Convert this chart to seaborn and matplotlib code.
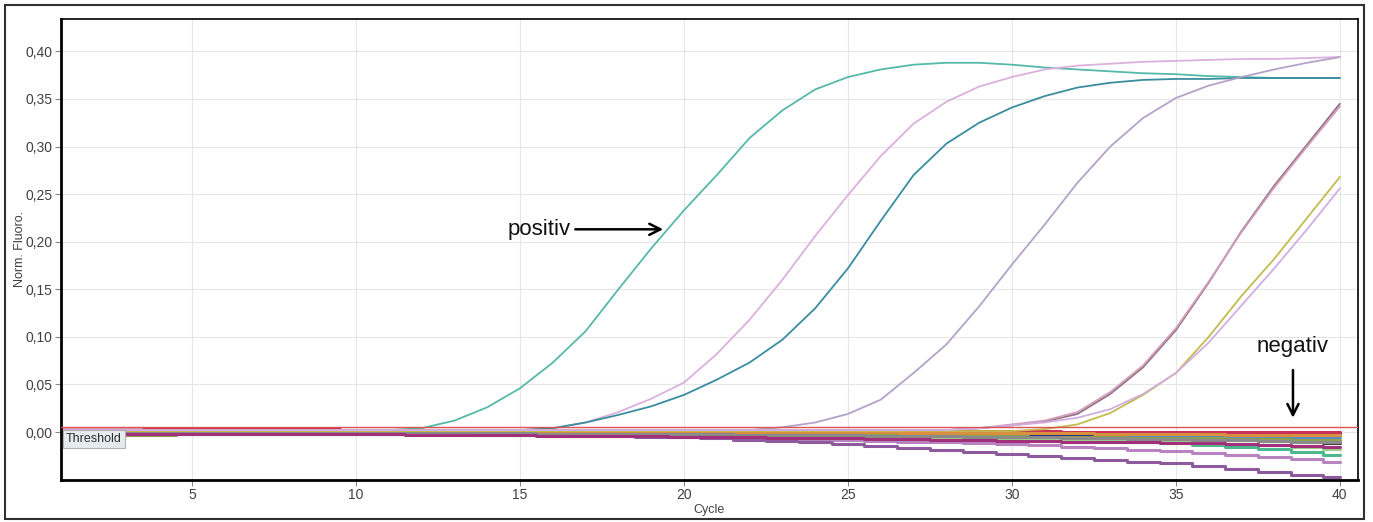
import numpy as np
import pandas as pd
import matplotlib
matplotlib.use('Agg')
import matplotlib.pyplot as plt
import matplotlib.patches as patches
import seaborn as sns

cycles = list(range(1, 41))

# positive wells (one value per cycle)
pos_a = [0.002]*11 + [0.004, 0.012, 0.026, 0.046, 0.073, 0.106, 0.150, 0.193,
         0.233, 0.270, 0.309, 0.338, 0.360, 0.373, 0.381, 0.386, 0.388, 0.388,
         0.386, 0.383, 0.381, 0.379, 0.377, 0.376, 0.374, 0.373, 0.372, 0.372,
         0.372]
pos_b = [0.002]*15 + [0.004, 0.010, 0.021, 0.035, 0.052, 0.082, 0.118, 0.160,
         0.206, 0.249, 0.290, 0.324, 0.347, 0.363, 0.373, 0.381, 0.385, 0.387,
         0.389, 0.390, 0.391, 0.392, 0.392, 0.393, 0.394]
pos_c = [0.002]*15 + [0.004, 0.010, 0.018, 0.027, 0.039, 0.055, 0.073, 0.097,
         0.130, 0.172, 0.222, 0.270, 0.303, 0.325, 0.341, 0.353, 0.362, 0.367,
         0.370, 0.371, 0.371, 0.372, 0.372, 0.372, 0.372]
pos_d = [0.002]*22 + [0.005, 0.010, 0.019, 0.034, 0.062, 0.092, 0.132, 0.176,
         0.218, 0.262, 0.300, 0.330, 0.351, 0.364, 0.373, 0.381, 0.388, 0.394]
pos_e = [0.002]*28 + [0.004, 0.007, 0.011, 0.019, 0.040, 0.068, 0.107, 0.157,
         0.211, 0.259, 0.302, 0.345]
pos_f = [0.002]*28 + [0.004, 0.008, 0.012, 0.021, 0.042, 0.070, 0.109, 0.158,
         0.210, 0.257, 0.300, 0.342]
pos_g = [0.001]*30 + [0.003, 0.008, 0.020, 0.039, 0.062, 0.100, 0.143, 0.182,
         0.225, 0.268]
pos_h = [0.002]*28 + [0.004, 0.007, 0.010, 0.015, 0.024, 0.040, 0.062, 0.094,
         0.133, 0.172, 0.213, 0.256]

pos_names = ['A', 'B', 'C', 'D', 'E', 'F', 'G', 'H']
pos_values = [pos_a, pos_b, pos_c, pos_d, pos_e, pos_f, pos_g, pos_h]
pos_colors = ['#55b8a9', '#dbb0de', '#3a8c9f', '#b4a2c8', '#8f7282',
              '#d29cbb', '#c2bc4e', '#d2ade2']

# negative wells
neg_1 = [0.000, 0.000, 0.000, -0.001, -0.001, -0.001, -0.001, -0.001, -0.001, -0.001,
         -0.002, -0.002, -0.002, -0.003, -0.003, -0.003, -0.004, -0.004, -0.005, -0.005,
         -0.006, -0.008, -0.009, -0.011, -0.013, -0.015, -0.017, -0.019, -0.021, -0.023,
         -0.025, -0.027, -0.029, -0.031, -0.033, -0.036, -0.039, -0.042, -0.045, -0.047]
neg_2 = [0.001, 0.001, 0.001, 0.000, 0.000, 0.000, 0.000, 0.000, -0.001, -0.001,
         -0.001, -0.001, -0.002, -0.002, -0.002, -0.003, -0.003, -0.003, -0.004, -0.004,
         -0.005, -0.005, -0.006, -0.007, -0.008, -0.009, -0.010, -0.011, -0.012, -0.013,
         -0.014, -0.016, -0.017, -0.019, -0.020, -0.022, -0.024, -0.026, -0.028, -0.031]
neg_3 = [0.002, 0.002, 0.002, 0.001, 0.001, 0.001, 0.001, 0.001, 0.001, 0.001,
         0.000, 0.000, 0.000, 0.000, 0.000, -0.001, -0.001, -0.001, -0.001, -0.002,
         -0.002, -0.002, -0.003, -0.003, -0.004, -0.004, -0.005, -0.005, -0.006, -0.007,
         -0.008, -0.009, -0.010, -0.011, -0.012, -0.014, -0.016, -0.018, -0.021, -0.024]
neg_4 = [-0.002, -0.002, -0.002, -0.002, -0.002, -0.002, -0.002, -0.002, -0.002, -0.002,
         -0.002, -0.002, -0.002, -0.003, -0.003, -0.003, -0.003, -0.003, -0.004, -0.004,
         -0.004, -0.004, -0.005, -0.005, -0.005, -0.006, -0.006, -0.006, -0.007, -0.007,
         -0.008, -0.008, -0.009, -0.010, -0.011, -0.012, -0.013, -0.014, -0.016, -0.018]
neg_5 = [0.000, 0.000, 0.000, 0.000, 0.000, 0.000, 0.000, 0.000, 0.000, 0.000,
         0.000, 0.000, 0.000, 0.000, 0.000, -0.001, -0.001, -0.001, -0.001, -0.001,
         -0.001, -0.002, -0.002, -0.002, -0.002, -0.003, -0.003, -0.003, -0.003, -0.004,
         -0.004, -0.005, -0.005, -0.006, -0.006, -0.007, -0.008, -0.009, -0.010, -0.012]
neg_6 = [0.003, 0.003, 0.003, 0.003, 0.003, 0.003, 0.003, 0.003, 0.002, 0.002,
         0.002, 0.002, 0.002, 0.002, 0.001, 0.001, 0.001, 0.001, 0.001, 0.000,
         0.000, 0.000, 0.000, -0.001, -0.001, -0.001, -0.002, -0.002, -0.002, -0.003,
         -0.003, -0.003, -0.004, -0.004, -0.005, -0.005, -0.006, -0.006, -0.007, -0.008]
neg_7 = [-0.001, -0.001, -0.001, -0.001, -0.001, -0.001, -0.001, -0.001, -0.001, -0.001,
         -0.001, -0.001, -0.001, -0.001, -0.001, -0.001, -0.002, -0.002, -0.002, -0.002,
         -0.002, -0.002, -0.002, -0.002, -0.002, -0.003, -0.003, -0.003, -0.003, -0.003,
         -0.003, -0.003, -0.003, -0.004, -0.004, -0.004, -0.004, -0.004, -0.005, -0.005]
neg_8 = [0.000, 0.000, 0.000, 0.000, 0.000, 0.000, 0.000, 0.000, 0.000, 0.000,
         0.000, 0.000, 0.000, 0.000, 0.000, 0.000, 0.000, 0.000, 0.000, 0.000,
         -0.001, -0.001, -0.001, -0.001, -0.001, -0.001, -0.001, -0.001, -0.001, -0.001,
         -0.002, -0.002, -0.002, -0.002, -0.002, -0.002, -0.001, -0.001, -0.001, -0.001]
neg_9 = [0.002, 0.002, 0.002, 0.003, 0.003, 0.003, 0.003, 0.003, 0.003, 0.002,
         0.002, 0.002, 0.002, 0.002, 0.002, 0.002, 0.002, 0.002, 0.002, 0.002,
         0.002, 0.002, 0.001, 0.001, 0.001, 0.001, 0.001, 0.001, 0.001, 0.001,
         0.001, 0.000, 0.000, 0.000, 0.000, 0.000, 0.000, 0.000, 0.000, 0.000]
neg_10 = [0.001, 0.001, 0.001, 0.001, 0.001, 0.001, 0.001, 0.001, 0.001, 0.001,
          0.001, 0.001, 0.001, 0.001, 0.001, 0.001, 0.000, 0.000, 0.000, 0.000,
          0.000, 0.000, 0.000, 0.000, 0.000, 0.000, -0.001, -0.001, -0.001, -0.001,
          -0.001, -0.001, -0.002, -0.002, -0.002, -0.002, -0.003, -0.003, -0.003, -0.003]
neg_11 = [-0.003, -0.003, -0.003, -0.003, -0.002, -0.002, -0.002, -0.002, -0.002, -0.002,
          -0.002, -0.002, -0.002, -0.002, -0.002, -0.002, -0.002, -0.002, -0.002, -0.002,
          -0.003, -0.003, -0.003, -0.003, -0.003, -0.003, -0.004, -0.004, -0.004, -0.004,
          -0.005, -0.005, -0.005, -0.006, -0.006, -0.006, -0.007, -0.007, -0.008, -0.008]
neg_12 = [-0.001, -0.001, -0.001, -0.001, -0.001, -0.001, -0.001, -0.001, -0.001, -0.001,
          -0.001, -0.001, -0.001, -0.001, -0.001, -0.002, -0.002, -0.002, -0.002, -0.002,
          -0.002, -0.003, -0.003, -0.003, -0.003, -0.004, -0.004, -0.004, -0.005, -0.005,
          -0.005, -0.006, -0.006, -0.007, -0.007, -0.008, -0.008, -0.009, -0.010, -0.011]
neg_13 = [-0.002, -0.002, -0.002, -0.002, -0.002, -0.002, -0.002, -0.002, -0.002, -0.002,
          -0.002, -0.003, -0.003, -0.003, -0.003, -0.004, -0.004, -0.004, -0.004, -0.005,
          -0.005, -0.005, -0.006, -0.006, -0.006, -0.007, -0.007, -0.008, -0.008, -0.009,
          -0.009, -0.010, -0.010, -0.011, -0.012, -0.012, -0.013, -0.014, -0.015, -0.016]

neg_values = [neg_1, neg_2, neg_3, neg_4, neg_5, neg_6, neg_7, neg_8, neg_9,
              neg_10, neg_11, neg_12, neg_13]
neg_names = ['N%d' % (i + 1) for i in range(len(neg_values))]
neg_colors = ['#8e5a9e', '#b884c0', '#4db890', '#9ccf8c', '#4a3530', '#e3a3c3',
              '#5a8cc8', '#1c2a8c', '#c8305a', '#d8903f', '#8aa04f', '#8a8a8a',
              '#a0307a']

threshold = 0.005
x_ticks = [5, 10, 15, 20, 25, 30, 35, 40]
y_ticks = [0.00, 0.05, 0.10, 0.15, 0.20, 0.25, 0.30, 0.35, 0.40]
y_ticklabels = ['0,00', '0,05', '0,10', '0,15', '0,20', '0,25', '0,30', '0,35', '0,40']

pos_df = pd.DataFrame({
    'Cycle': cycles * len(pos_names),
    'Fluoro': sum(pos_values, []),
    'Well': [n for n in pos_names for _ in cycles],
})
neg_df = pd.DataFrame({
    'Cycle': cycles * len(neg_names),
    'Fluoro': sum(neg_values, []),
    'Well': [n for n in neg_names for _ in cycles],
})

sns.set_style('white')
plt.rcParams['font.family'] = ['Liberation Sans', 'DejaVu Sans']

fig = plt.figure(figsize=(13.73, 5.22), dpi=100)
ax = fig.add_axes([0.0444, 0.0805, 0.9446, 0.8831])

sns.lineplot(data=neg_df, x='Cycle', y='Fluoro', hue='Well',
             palette=dict(zip(neg_names, neg_colors)), estimator=None,
             legend=False, linewidth=2.2, drawstyle='steps-mid', ax=ax)
sns.lineplot(data=pos_df, x='Cycle', y='Fluoro', hue='Well',
             palette=dict(zip(pos_names, pos_colors)), estimator=None,
             legend=False, linewidth=1.3, ax=ax)
ax.axhline(threshold, color='#d9534f', linewidth=1.0, zorder=5)

ax.set_xlim(1, 40.55)
ax.set_ylim(-0.0504, 0.434)
ax.set_xticks(x_ticks)
ax.set_yticks(y_ticks)
ax.set_yticklabels(y_ticklabels)
ax.grid(True, color='#e6e6e6', linewidth=0.8)
ax.set_axisbelow(True)
ax.tick_params(axis='both', which='major', length=4, width=0.8, color='#888888',
               labelsize=10, labelcolor='#404040', pad=2, left=True, bottom=True)
ax.set_xlabel('Cycle', fontsize=9, color='#404040', labelpad=1)
ax.set_ylabel('Norm. Fluoro.', fontsize=9, color='#404040', labelpad=0)
for side in ['left', 'bottom', 'top', 'right']:
    ax.spines[side].set_color('black')
ax.spines['left'].set_linewidth(2.0)
ax.spines['bottom'].set_linewidth(2.0)
ax.spines['top'].set_linewidth(1.2)
ax.spines['right'].set_linewidth(1.2)

ax.text(1.15, -0.0075, 'Threshold', fontsize=9, color='#303030', va='center', ha='left',
        zorder=6, bbox=dict(boxstyle='square,pad=0.25', facecolor='#e6ebf0',
                            edgecolor='#b0b0b0', linewidth=0.8))

ax.annotate('', xy=(19.45, 0.213), xytext=(16.6, 0.213),
            arrowprops=dict(arrowstyle='->,head_length=0.8,head_width=0.4',
                            color='black', lw=1.8))
ax.text(16.55, 0.213, 'positiv', fontsize=16, ha='right', va='center', color='#111111')
ax.annotate('', xy=(38.57, 0.012), xytext=(38.57, 0.068),
            arrowprops=dict(arrowstyle='->,head_length=0.8,head_width=0.4',
                            color='black', lw=1.8))
ax.text(38.55, 0.090, 'negativ', fontsize=16, ha='center', va='center', color='#111111')

fig.patches.append(patches.Rectangle((0.0036, 0.0057), 0.990, 0.985, transform=fig.transFigure,
                                     fill=False, edgecolor='#303030', linewidth=1.5))

fig.savefig('out.png', dpi=100)
